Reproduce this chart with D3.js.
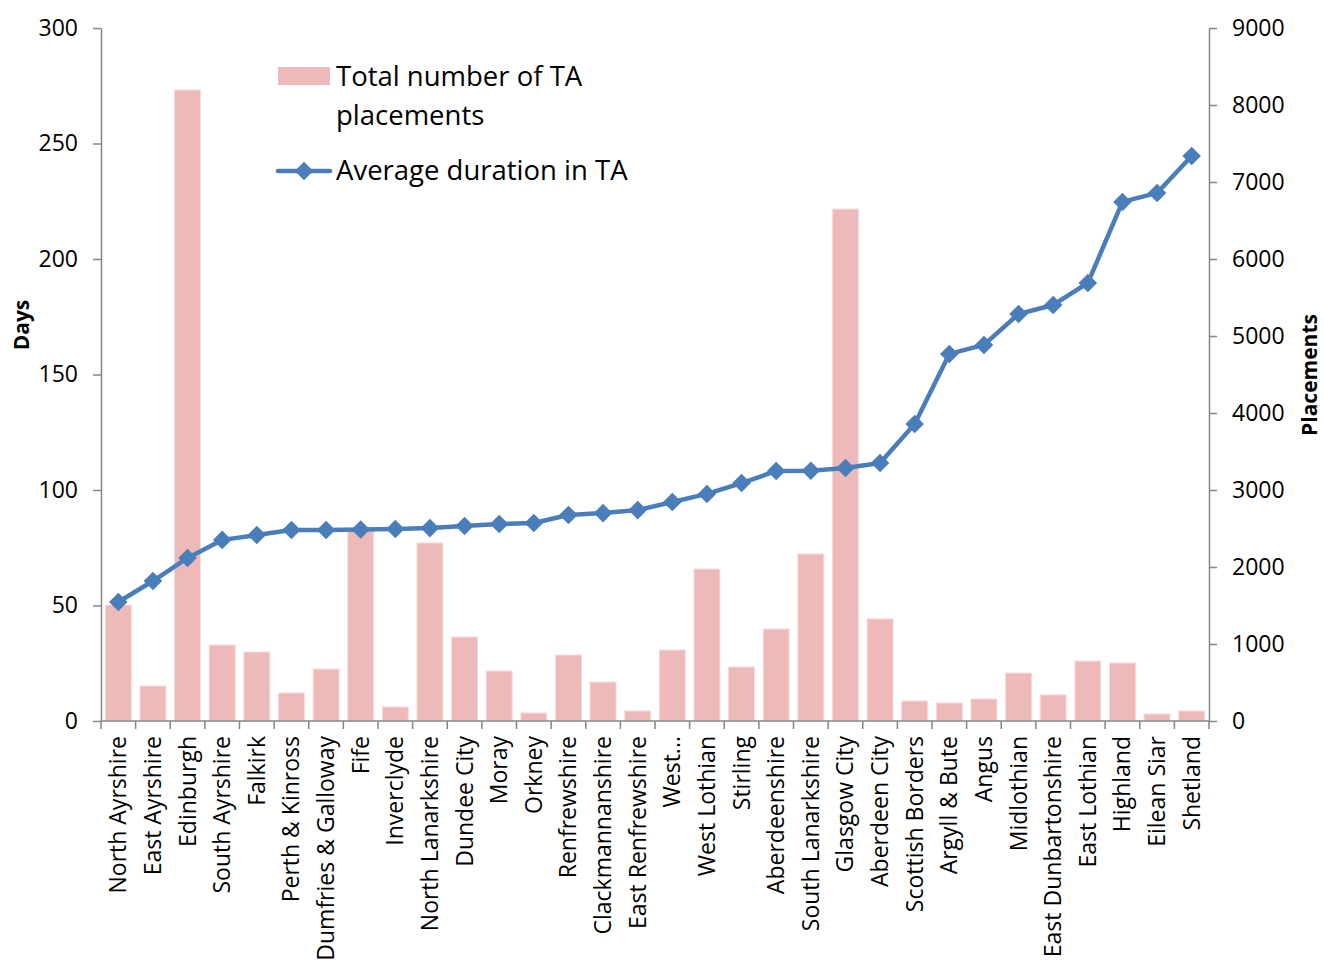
<!doctype html>
<html>
<head>
<meta charset="utf-8">
<script src="https://cdn.jsdelivr.net/npm/d3@7"></script>
<style>
  body { margin: 0; background: #fff; font-family: 'Open Sans', sans-serif; }
  .axis path, .axis line { stroke: #868686; stroke-width: 1.5; }
  .axis text { fill: #000; font-family: 'Open Sans', sans-serif; }
</style>
</head>
<body>
<svg id="chart"></svg>
<script>
const areas = ["North Ayrshire","East Ayrshire","Edinburgh","South Ayrshire","Falkirk","Perth & Kinross",
  "Dumfries & Galloway","Fife","Inverclyde","North Lanarkshire","Dundee City","Moray","Orkney","Renfrewshire",
  "Clackmannanshire","East Renfrewshire","West...","West Lothian","Stirling","Aberdeenshire","South Lanarkshire",
  "Glasgow City","Aberdeen City","Scottish Borders","Argyll & Bute","Angus","Midlothian","East Dunbartonshire",
  "East Lothian","Highland","Eilean Siar","Shetland"]

const placements = [1506,455,8195,987,896,364,675,2480,182,2312,1091,649,104,857,506,130,922,1974,701,1195,
  2169,6649,1325,260,234,286,623,338,779,753,91,130]

const duration = [51.5,60.6,70.6,78.4,80.5,82.7,82.7,82.9,83.1,83.5,84.4,85.3,85.7,89.2,90,91.3,94.8,98.3,103,
  108.2,108.3,109.5,111.7,128.6,158.9,162.8,176.2,180.1,189.6,224.7,228.6,244.6]

const daysTicks = [0,50,100,150,200,250,300]
const placeTicks = [0,1000,2000,3000,4000,5000,6000,7000,8000,9000]

const width = 1324, height = 964
const margin = { top: 28, right: 115, bottom: 243, left: 101 }
const innerW = width - margin.left - margin.right
const innerH = height - margin.top - margin.bottom

const svg = d3.select("#chart").attr("width", width).attr("height", height)
const g = svg.append("g").attr("transform", "translate(" + margin.left + "," + margin.top + ")")

const x = d3.scaleBand().domain(areas).range([0, innerW]).paddingInner(0.25).paddingOuter(0.125)
const xEdge = d3.scaleLinear().domain([0, areas.length]).range([0, innerW])
const yDays = d3.scaleLinear().domain([0, 300]).range([innerH, 0])
const yPlace = d3.scaleLinear().domain([0, 9000]).range([innerH, 0])

// bars
g.selectAll(".bar")
  .data(areas)
  .enter().append("rect")
    .attr("class", "bar")
    .attr("x", d => x(d))
    .attr("width", x.bandwidth())
    .attr("y", (d, i) => yPlace(placements[i]))
    .attr("height", (d, i) => innerH - yPlace(placements[i]))
    .attr("fill", "#edb9b9")
    .attr("stroke", "#f6dcdc")
    .attr("stroke-width", 1)

// left axis
const leftAxis = g.append("g").attr("class", "axis")
  .call(d3.axisLeft(yDays).tickValues(daysTicks).tickSize(8).tickSizeOuter(0).tickPadding(15))
leftAxis.selectAll("text").style("font-size", "23px")

// right axis
const rightAxis = g.append("g").attr("class", "axis")
  .attr("transform", "translate(" + innerW + ",0)")
  .call(d3.axisRight(yPlace).tickValues(placeTicks).tickFormat(d3.format("d")).tickSize(8).tickSizeOuter(0).tickPadding(15))
rightAxis.selectAll("text").style("font-size", "23px")

// x axis: baseline, boundary ticks, rotated labels
const xAxis = g.append("g").attr("class", "axis").attr("transform", "translate(0," + innerH + ")")
xAxis.append("line").attr("x1", 0).attr("x2", innerW)
xAxis.selectAll(".tick-b")
  .data(d3.range(areas.length + 1))
  .enter().append("line")
    .attr("x1", d => xEdge(d)).attr("x2", d => xEdge(d))
    .attr("y1", 0).attr("y2", 8)
xAxis.selectAll(".lab")
  .data(areas)
  .enter().append("text")
    .attr("transform", d => "translate(" + (x(d) + x.bandwidth() / 2 + 8) + ",15) rotate(-90)")
    .attr("text-anchor", "end")
    .style("font-size", "23px")
    .text(d => d)

// line series
const line = d3.line()
  .x((d, i) => x(areas[i]) + x.bandwidth() / 2)
  .y(d => yDays(d))
g.append("path")
  .datum(duration)
  .attr("fill", "none")
  .attr("stroke", "#4a7ebb")
  .attr("stroke-width", 4.5)
  .attr("stroke-linejoin", "round")
  .attr("d", line)

const diamond = d3.symbol().type(d3.symbolDiamond2).size(220)
g.selectAll(".pt")
  .data(duration)
  .enter().append("path")
    .attr("transform", (d, i) => "translate(" + (x(areas[i]) + x.bandwidth() / 2) + "," + yDays(d) + ")")
    .attr("d", diamond)
    .attr("fill", "#4a7ebb")

// axis titles
svg.append("text")
  .attr("transform", "translate(29,325) rotate(-90)")
  .attr("text-anchor", "middle")
  .style("font-size", "21px").style("font-weight", "bold")
  .text("Days")
svg.append("text")
  .attr("transform", "translate(1317,375) rotate(-90)")
  .attr("text-anchor", "middle")
  .style("font-size", "21px").style("font-weight", "bold")
  .text("Placements")

// legend
const legend = svg.append("g").attr("transform", "translate(278,0)")
legend.append("rect").attr("x", 0).attr("y", 67).attr("width", 52).attr("height", 18).attr("fill", "#edb9b9")
legend.append("text").attr("x", 58).attr("y", 86).style("font-size", "27.5px").text("Total number of TA")
legend.append("text").attr("x", 58).attr("y", 125).style("font-size", "27.5px").text("placements")
legend.append("line").attr("x1", 0).attr("x2", 52).attr("y1", 171).attr("y2", 171)
  .attr("stroke", "#4a7ebb").attr("stroke-width", 4.5).attr("stroke-linecap", "round")
legend.append("path").attr("transform", "translate(26,171)").attr("d", diamond).attr("fill", "#4a7ebb")
legend.append("text").attr("x", 58).attr("y", 180).style("font-size", "27.5px").text("Average duration in TA")
</script>
</body>
</html>
